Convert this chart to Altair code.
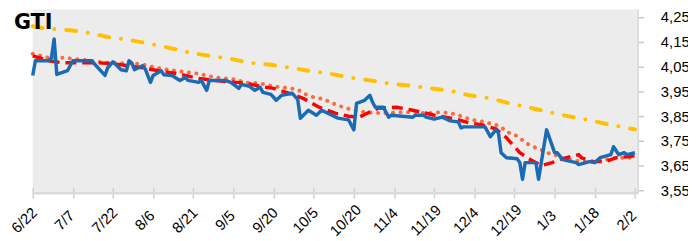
import altair as alt
import pandas as pd

# ---- data ----
price_dates = ["2022-06-22","2022-06-23","2022-06-25","2022-06-28","2022-06-29","2022-06-30","2022-07-01",
  "2022-07-05","2022-07-07","2022-07-14","2022-07-19","2022-07-20","2022-07-22","2022-07-25","2022-07-27",
  "2022-07-28","2022-07-29","2022-07-30","2022-08-02","2022-08-03","2022-08-05","2022-08-06","2022-08-09",
  "2022-08-10","2022-08-13","2022-08-16","2022-08-18","2022-08-19","2022-08-23","2022-08-24","2022-08-26",
  "2022-08-27","2022-09-02","2022-09-04","2022-09-07","2022-09-08","2022-09-11","2022-09-13","2022-09-15",
  "2022-09-16","2022-09-19","2022-09-21","2022-09-23","2022-09-27","2022-09-29","2022-09-30","2022-10-03",
  "2022-10-06","2022-10-08","2022-10-11","2022-10-14","2022-10-18","2022-10-20","2022-10-21","2022-10-24",
  "2022-10-26","2022-10-27","2022-10-28","2022-10-31","2022-11-02","2022-11-03","2022-11-07","2022-11-11",
  "2022-11-12","2022-11-15","2022-11-16","2022-11-19","2022-11-22","2022-11-25","2022-11-28","2022-11-29",
  "2022-11-30","2022-12-08","2022-12-10","2022-12-12","2022-12-13","2022-12-14","2022-12-16","2022-12-20",
  "2022-12-21","2022-12-22","2022-12-23","2022-12-27","2022-12-28","2022-12-31","2023-01-03","2023-01-04",
  "2023-01-06","2023-01-11","2023-01-12","2023-01-16","2023-01-18","2023-01-20","2023-01-24","2023-01-25",
  "2023-01-27","2023-01-29","2023-01-30","2023-02-02"]
price_values = [4014,4073,4073,4073,4085,4161,4018,
  4033,4073,4073,4014,4045,4069,4037,4033,
  4073,4065,4037,4053,4041,3986,4014,4033,
  4017,4014,3994,4006,3994,3986,3994,3954,
  3994,3994,3986,3962,3978,3970,3954,3966,
  3946,3938,3914,3934,3942,3918,3842,3874,
  3854,3874,3858,3842,3835,3795,3902,3914,
  3934,3906,3886,3886,3846,3854,3850,3846,
  3854,3854,3846,3838,3846,3831,3827,3803,
  3807,3807,3767,3795,3783,3703,3683,3679,
  3663,3596,3663,3663,3596,3795,3703,3703,
  3675,3663,3655,3667,3663,3683,3695,3727,
  3695,3703,3695,3703]

ma_short_dates = ["2022-06-22","2022-06-28","2022-07-03","2022-07-16","2022-07-22","2022-08-02","2022-08-08",
  "2022-08-15","2022-08-23","2022-08-29","2022-09-06","2022-09-10","2022-09-15","2022-09-20","2022-09-26",
  "2022-10-01","2022-10-07","2022-10-13","2022-10-18","2022-10-22","2022-10-25","2022-10-29","2022-11-05",
  "2022-11-11","2022-11-16","2022-11-19","2022-11-27","2022-12-02","2022-12-07","2022-12-12","2022-12-16",
  "2022-12-19","2022-12-21","2022-12-25","2022-12-29","2023-01-02","2023-01-06","2023-01-09","2023-01-12",
  "2023-01-13","2023-01-17","2023-01-22","2023-01-26","2023-01-30","2023-02-02"]
ma_short_values = [4093,4073,4065,4065,4061,4045,4033,
  4021,4002,3994,3986,3982,3970,3962,3942,
  3922,3886,3862,3850,3846,3862,3882,3886,
  3874,3862,3854,3838,3823,3815,3799,3763,
  3727,3703,3675,3651,3663,3679,3687,3695,
  3683,3667,3667,3683,3687,3691]

ma_mid_dates = ["2022-06-22","2022-06-25","2022-06-28","2022-07-04","2022-07-14","2022-07-19","2022-08-01",
  "2022-08-07","2022-08-14","2022-08-23","2022-08-29","2022-09-06","2022-09-09","2022-09-15","2022-09-20",
  "2022-09-26","2022-09-29","2022-10-01","2022-10-05","2022-10-09","2022-10-12","2022-10-16","2022-10-20",
  "2022-10-24","2022-10-31","2022-11-06","2022-11-11","2022-11-16","2022-11-22","2022-11-27","2022-11-30",
  "2022-12-03","2022-12-06","2022-12-09","2022-12-12","2022-12-14","2022-12-16","2022-12-19","2022-12-21",
  "2022-12-23","2022-12-26","2022-12-29","2022-12-31","2023-01-03","2023-01-06","2023-01-10","2023-01-16",
  "2023-01-22","2023-01-27","2023-02-02"]
ma_mid_values = [4101,4093,4085,4085,4073,4065,4061,
  4045,4033,4021,4006,3998,3986,3982,3970,
  3962,3958,3942,3926,3918,3902,3886,3874,
  3866,3862,3866,3866,3862,3866,3858,3846,
  3835,3831,3823,3815,3807,3787,3775,3763,
  3743,3727,3715,3703,3695,3679,3671,3667,
  3675,3683,3683]

ma_long_dates = ["2022-06-22","2022-06-26","2022-07-06","2022-07-13","2022-07-20","2022-07-28","2022-08-05",
  "2022-08-12","2022-08-20","2022-08-27","2022-09-04","2022-09-11","2022-09-19","2022-09-26","2022-10-03",
  "2022-10-11","2022-10-18","2022-10-26","2022-11-02","2022-11-09","2022-11-18","2022-11-26","2022-12-02",
  "2022-12-10","2022-12-17","2022-12-24","2023-01-01","2023-01-08","2023-01-16","2023-01-24","2023-01-30",
  "2023-02-02"]
ma_long_values = [4212,4204,4196,4185,4169,4157,4141,
  4125,4105,4093,4081,4065,4057,4045,4033,
  4021,4006,3994,3982,3974,3962,3950,3934,
  3922,3902,3886,3866,3850,3834,3815,3803,
  3797]

tick_dates = ["2022-06-22","2022-07-07","2022-07-22","2022-08-06","2022-08-21","2022-09-05","2022-09-20",
  "2022-10-05","2022-10-20","2022-11-04","2022-11-19","2022-12-04","2022-12-19","2023-01-03","2023-01-18",
  "2023-02-02"]
y_ticks = [3550, 3650, 3750, 3850, 3950, 4050, 4150, 4250]
title_text = ["GTI"]

# ---- chart ----
W, H = 612, 186
FONT = "Liberation Sans"


def to_dt(s):
    y, m, d = (int(p) for p in s.split("-"))
    return alt.DateTime(year=y, month=m, date=d)


x_enc = alt.X(
    "date:T",
    scale=alt.Scale(domain=[to_dt("2022-06-22"), to_dt("2023-02-03")]),
    axis=alt.Axis(
        values=[to_dt(s) for s in tick_dates], format="%-m/%-d", labelAngle=-45,
        labelAlign="center", labelBaseline="middle",
        labelFont=FONT, labelFontSize=15, labelColor="#000000", labelOverlap=False,
        labelBound=False, labelFlush=False, labelPadding=22, labelOffset=-9,
        tickColor="#d0d0d0", tickWidth=1.5, tickSize=11, offset=-6,
        domain=False, grid=False, title=None,
    ),
)
y_enc = alt.Y(
    "value:Q",
    scale=alt.Scale(domain=[3540, 4280], nice=False, zero=False),
    axis=alt.Axis(
        orient="right", values=y_ticks, format=",.0f",
        labelFont=FONT, labelFontSize=15, labelColor="#000000", labelOverlap=False,
        labelPadding=17, tickColor="#c8c8c8", tickWidth=1.5, tickSize=6,
        domainColor="#d6d6d6", domainWidth=1.5, grid=False, title=None,
    ),
)


def frame(dates, values):
    return pd.DataFrame({"date": pd.to_datetime(dates), "value": values})


long_line = alt.Chart(frame(ma_long_dates, ma_long_values)).mark_line(
    color="#ffc000", strokeWidth=4, strokeDash=[10, 12, 0.1, 12], strokeCap="round"
).encode(x=x_enc, y=y_enc)

mid_line = alt.Chart(frame(ma_mid_dates, ma_mid_values)).mark_line(
    color="#ff6a3d", strokeWidth=4, strokeDash=[0.1, 7.5], strokeCap="round"
).encode(x=x_enc, y=y_enc)

short_line = alt.Chart(frame(ma_short_dates, ma_short_values)).mark_line(
    color="#ff0000", strokeWidth=3.5, strokeDash=[11, 6]
).encode(x=x_enc, y=y_enc)

price_line = alt.Chart(frame(price_dates, price_values)).mark_line(
    color="#1a6bb5", strokeWidth=3.5, strokeJoin="round"
).encode(x=x_enc, y=y_enc)

base_rule = alt.Chart(pd.DataFrame({"a": [0]})).mark_rule(
    color="#d9d9d9", strokeWidth=2.5
).encode(x=alt.value(0), x2=alt.value(W), y=alt.value(H))

title = alt.Chart(pd.DataFrame({"t": title_text})).mark_text(
    font="DejaVu Sans", fontWeight="bold", fontSize=21, align="left",
    baseline="alphabetic", color="#000000"
).encode(text="t:N", x=alt.value(-19), y=alt.value(20))

chart = alt.layer(long_line, mid_line, short_line, price_line, base_rule, title).properties(
    width=W, height=H,
    autosize=alt.AutoSizeParams(type="none"),
    padding={"left": 25, "top": 0, "right": 51, "bottom": 47},
    background="#ffffff",
).configure_view(fill="#ececec", stroke=None)

chart.save("out.html", embed_options={"renderer": "svg", "actions": False})
